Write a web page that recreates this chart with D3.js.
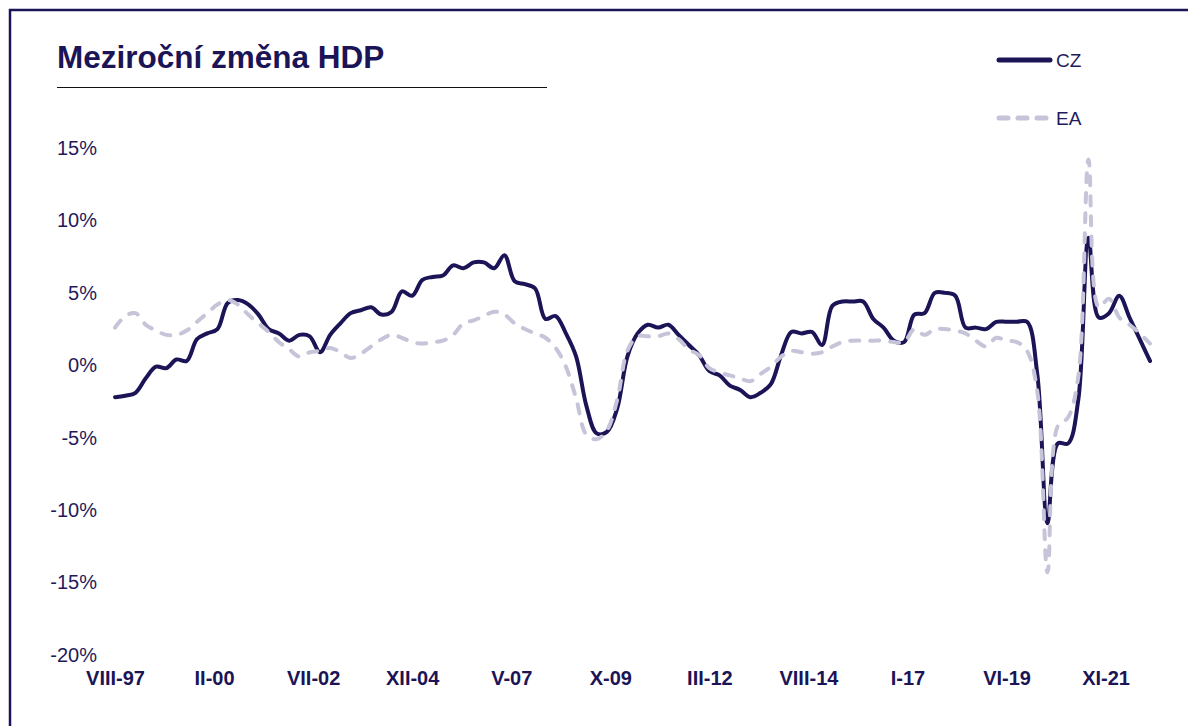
<!DOCTYPE html>
<html>
<head>
<meta charset="utf-8">
<script src="https://cdn.jsdelivr.net/npm/d3@7"></script>
<style>
  html, body { margin: 0; padding: 0; background: #ffffff; }
  svg { display: block; }
</style>
</head>
<body>
<script>
// ---- Data (quarterly, Q3 1997 .. Q4 2022), year-on-year GDP change in % ----
const quarterIndex = d3.range(0, 102); // position index of each quarter
const czValues = [
  -2.2, -2.1, -1.9, -0.9, -0.1, -0.2, 0.4, 0.3, 1.8, 2.2,
   2.5,  4.3,  4.5,  4.2,  3.5,  2.5, 2.2, 1.7, 2.1, 2.0,
   0.9,  2.1,  2.9,  3.6,  3.8,  4.0, 3.5, 3.7, 5.1, 4.8,
   5.9,  6.1,  6.2,  6.9,  6.7,  7.1, 7.1, 6.7, 7.6, 5.8,
   5.6,  5.3,  3.2,  3.4,  2.2,  0.6, -2.8, -4.7, -4.6, -3.0,
   0.6,  2.2,  2.8,  2.6,  2.8,  2.1, 1.4, 0.7, -0.4, -0.7,
  -1.4, -1.7, -2.2, -1.9, -1.3,  0.7, 2.3, 2.2, 2.3, 1.4,
   4.1,  4.4,  4.4,  4.4,  3.2,  2.6, 1.7, 1.6, 3.5, 3.6,
   5.0,  5.0,  4.8,  2.6,  2.6,  2.5, 3.0, 3.0, 3.0, 3.0,
  -0.6, -10.9, -5.4, -5.4, -2.4, 8.8, 3.3, 3.6, 4.8, 3.3,
   1.8,  0.3
];
const eaValues = [
   2.6,  3.4,  3.6,  2.8,  2.4,  2.1, 2.1, 2.4, 3.0, 3.6,
   4.2,  4.5,  4.2,  3.5,  2.9,  2.3, 1.6, 1.1, 0.6, 0.9,
   1.0,  1.2,  0.9,  0.5,  0.8,  1.3, 1.8, 2.1, 1.9, 1.6,
   1.5,  1.6,  1.7,  2.1,  2.9,  3.1, 3.4, 3.7, 3.5, 2.9,
   2.5,  2.2,  1.9,  1.2, -0.1, -2.3, -4.8, -5.1, -4.5, -2.4,
   1.0,  2.0,  2.0,  2.0,  2.2,  1.8, 1.1, 0.7, -0.2, -0.5,
  -0.7, -0.9, -1.1, -0.6, -0.1,  0.6, 1.0, 0.9, 0.8, 0.9,
   1.3,  1.6,  1.7,  1.7,  1.7,  1.7, 1.6, 1.6, 2.5, 2.1,
   2.5,  2.5,  2.4,  2.2,  1.7,  1.3, 1.9, 1.7, 1.6, 1.0,
  -1.8, -14.3, -4.2, -3.6, -0.8, 14.2, 4.0, 4.6, 3.3, 2.8,
   2.2,  1.5
];
const seriesNames = ["CZ", "EA"];
const xTickLabels = ["VIII-97", "II-00", "VII-02", "XII-04", "V-07", "X-09",
                     "III-12", "VIII-14", "I-17", "VI-19", "XI-21"];
const xTickMonths = [0, 29, 58, 87, 116, 145, 174, 203, 232, 261, 290]; // months from first point
const yTicks = [-20, -15, -10, -5, 0, 5, 10, 15];
const titleText = "Meziroční změna HDP";

// ---- Styling ----
const W = 1188, H = 726;
const navy = "#1b1456";
const eaColor = "#c6c4d8";
const textColor = "#1f1a5c";

const svg = d3.select("body").append("svg")
  .attr("width", W).attr("height", H);

// frame
svg.append("rect")
  .attr("x", 10).attr("y", 10)
  .attr("width", 1250).attr("height", 800)
  .attr("fill", "none").attr("stroke", navy).attr("stroke-width", 2.5);

// title
svg.append("text")
  .attr("x", 57).attr("y", 68)
  .attr("font-family", "'Liberation Sans', Arial, sans-serif")
  .attr("font-weight", "bold")
  .attr("font-size", 31.5)
  .attr("fill", navy)
  .text(titleText);
svg.append("line")
  .attr("x1", 57).attr("x2", 547)
  .attr("y1", 87.5).attr("y2", 87.5)
  .attr("stroke", "#111").attr("stroke-width", 1.2);

// scales (x in months from first quarter; data every 3 months)
const x = d3.scaleLinear().domain([0, 303]).range([115, 1150]);
const y = d3.scaleLinear().domain([-20, 15]).range([655, 148]);

// y axis
const yAxis = d3.axisLeft(y).tickValues(yTicks).tickSize(0).tickPadding(0)
  .tickFormat(d => d + "%");
const gy = svg.append("g").attr("transform", "translate(97,0)").call(yAxis);
gy.select(".domain").remove();
gy.selectAll("text")
  .attr("font-family", "'Liberation Sans', Arial, sans-serif")
  .attr("font-size", 20)
  .attr("fill", textColor);

// x axis
const xAxis = d3.axisBottom(x).tickValues(xTickMonths).tickSize(0).tickPadding(1)
  .tickFormat((d, i) => xTickLabels[i]);
const gx = svg.append("g").attr("transform", "translate(0,670)").call(xAxis);
gx.select(".domain").remove();
gx.selectAll("text")
  .attr("font-family", "'Liberation Sans Narrow', 'Arial Narrow', 'Liberation Sans', Arial, sans-serif")
  .attr("font-weight", "bold")
  .attr("font-size", 20)
  .attr("fill", navy);

// lines
const line = d3.line()
  .x((d, i) => x(quarterIndex[i] * 3))
  .y(d => y(d))
  .curve(d3.curveCatmullRom.alpha(0.5));

svg.append("path")
  .datum(czValues)
  .attr("d", line)
  .attr("fill", "none")
  .attr("stroke", navy)
  .attr("stroke-width", 4)
  .attr("stroke-linejoin", "round")
  .attr("stroke-linecap", "round");

svg.append("path")
  .datum(eaValues)
  .attr("d", line)
  .attr("fill", "none")
  .attr("stroke", eaColor)
  .attr("stroke-width", 4)
  .attr("stroke-dasharray", "9 11")
  .attr("stroke-linecap", "round")
  .attr("stroke-linejoin", "round");

// legend
const legend = svg.append("g");
const legendY = [60, 118];
seriesNames.forEach((name, i) => {
  legend.append("line")
    .attr("x1", 999).attr("x2", 1050)
    .attr("y1", legendY[i]).attr("y2", legendY[i])
    .attr("stroke", i === 0 ? navy : eaColor)
    .attr("stroke-width", 5)
    .attr("stroke-linecap", "round")
    .attr("stroke-dasharray", i === 0 ? null : "9 10");
  legend.append("text")
    .attr("x", 1056).attr("y", legendY[i])
    .attr("dy", "0.35em")
    .attr("font-family", "'Liberation Sans', Arial, sans-serif")
    .attr("font-size", 19)
    .attr("fill", textColor)
    .text(name);
});
</script>
</body>
</html>
